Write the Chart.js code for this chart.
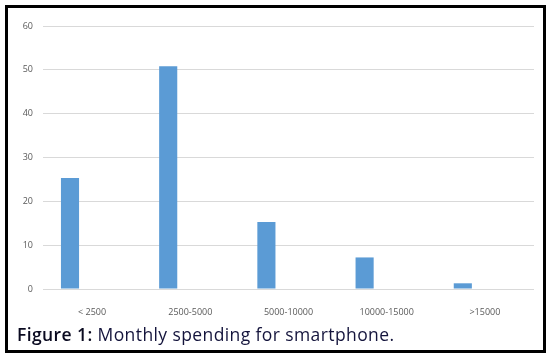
<!DOCTYPE html>
<html>
<head>
<meta charset="utf-8">
<script src="https://cdn.jsdelivr.net/npm/chart.js@4.4.1/dist/chart.umd.min.js"></script>
<style>
  html, body { margin: 0; padding: 0; background: #fff; }
  body { width: 551px; height: 357px; position: relative; overflow: hidden; }
  #frame { position: absolute; left: 5px; top: 5px; width: 541px; height: 348px; box-sizing: border-box; border: 3px solid #000; }
  #wrap { position: absolute; left: 0; top: 0; width: 551px; height: 357px; }
  #caption { position: absolute; left: 17px; top: 324px; font-family: "Open Sans", sans-serif; font-size: 17.5px; letter-spacing: 0.4px; color: #14143c; white-space: nowrap; line-height: 20px; }
  #caption b { color: #0a0a20; font-weight: 600; }
</style>
</head>
<body>
<div id="wrap"><canvas id="c" width="551" height="357"></canvas></div>
<div id="frame"></div>
<div id="caption"><b>Figure 1:</b> Monthly spending for smartphone.</div>
<script>
const categories = ["< 2500", "2500-5000", "5000-10000", "10000-15000", ">15000"];
const spending = [25.3, 50.8, 15.3, 7.2, 1.3];
const emptySeries = [null, null, null, null, null];
const yTicks = [0, 10, 20, 30, 40, 50, 60];

new Chart(document.getElementById('c'), {
  type: 'bar',
  data: {
    labels: categories,
    datasets: [
      { data: spending, backgroundColor: '#5b9bd5', borderWidth: 0, categoryPercentage: 0.9, barPercentage: 0.41 },
      { data: emptySeries, backgroundColor: '#ed7d31', borderWidth: 0, categoryPercentage: 0.9, barPercentage: 0.41 }
    ]
  },
  options: {
    responsive: false,
    animation: false,
    layout: { padding: { left: 0, right: 17, top: 26, bottom: 0 } },
    plugins: { legend: { display: false }, tooltip: { enabled: false } },
    scales: {
      x: {
        grid: { display: false, drawTicks: false },
        border: { display: false },
        ticks: { color: '#595959', font: { family: 'Open Sans', size: 9 }, padding: 18, maxRotation: 0, autoSkip: false },
        afterFit: s => { s.height = 68; }
      },
      y: {
        min: 0, max: 60,
        afterBuildTicks: s => { s.ticks = yTicks.map(v => ({ value: v })); },
        grid: { color: '#d9d9d9', lineWidth: 1, drawTicks: false },
        border: { display: false },
        ticks: { color: '#595959', font: { family: 'Open Sans', size: 9 }, padding: 10 },
        afterFit: s => { s.width = 43; }
      }
    }
  }
});
</script>
</body>
</html>
